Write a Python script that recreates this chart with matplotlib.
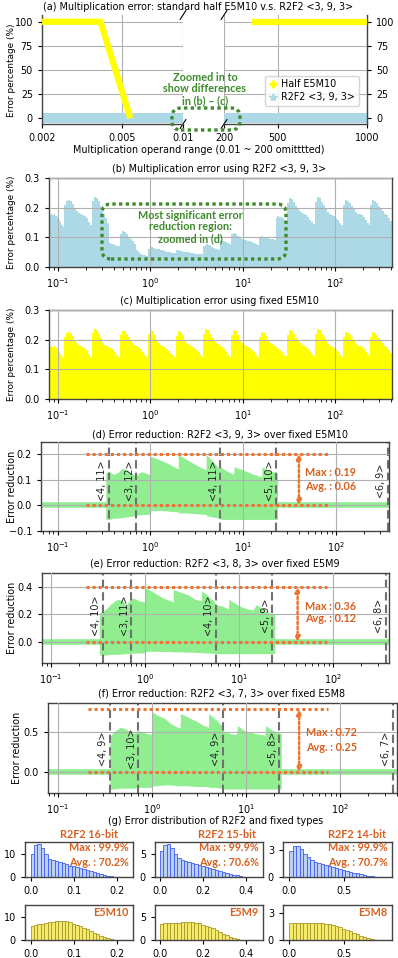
import matplotlib
matplotlib.use('Agg')
import matplotlib.pyplot as plt
import numpy as np
from matplotlib.patches import FancyBboxPatch
from matplotlib.lines import Line2D
from matplotlib.ticker import NullLocator

W, H = 398, 958
plt.rcParams['font.family'] = ['DejaVu Sans']
plt.rcParams['font.size'] = 6.9
plt.rcParams['axes.edgecolor'] = '#444444'
plt.rcParams['axes.linewidth'] = 1.0
plt.rcParams['grid.color'] = '#b0b0b0'
plt.rcParams['grid.linewidth'] = 0.8
plt.rcParams['xtick.major.size'] = 3
plt.rcParams['ytick.major.size'] = 3

ORANGE = '#ee7530'
ORANGE_TXT = '#d8601e'
GREEN = '#3d8b2b'
YELLOW = '#ffff00'
BLUE = '#add8e6'
LGREEN = '#90ee90'
BOLD = 'Lato'
DOTS = (0, (1, 1))

# ---- (a) standard half vs R2F2 over the whole range
a_half_x_lo = [0.002, 0.0039, 0.00548]
a_half_y_lo = [100, 100, 0]
a_half_x_hi = [357, 1000]
a_half_y_hi = [100, 100]
a_r2f2_x_lo = [0.002, 0.01]
a_r2f2_x_hi = [200, 1000]
a_r2f2_y = [0, 0]

# ---- (b) / (c) error percentage, segment edges and step levels
c_edges = [0.08, 0.117, 0.235, 0.47, 0.94, 1.88, 3.75, 7.5, 15, 30, 60, 120, 240, 410]
c_levels = [
    [0.175, 0.178, 0.175, 0.177, 0.172, 0.168, 0.16, 0.152, 0.142, 0.136],
    [0.21, 0.224, 0.226, 0.222, 0.212, 0.2, 0.19, 0.183, 0.178, 0.175, 0.172, 0.165, 0.152, 0.14],
    [0.222, 0.235, 0.232, 0.222, 0.205, 0.19, 0.182, 0.178, 0.176, 0.172, 0.168, 0.16, 0.15, 0.143],
    [0.215, 0.23, 0.228, 0.22, 0.208, 0.198, 0.19, 0.182, 0.178, 0.175, 0.17, 0.16, 0.15, 0.14],
    [0.218, 0.232, 0.228, 0.215, 0.2, 0.19, 0.182, 0.18, 0.176, 0.17, 0.162, 0.155, 0.148, 0.14],
    [0.212, 0.228, 0.225, 0.215, 0.2, 0.19, 0.185, 0.18, 0.176, 0.172, 0.165, 0.158, 0.15, 0.142],
    [0.22, 0.236, 0.232, 0.22, 0.205, 0.195, 0.19, 0.185, 0.18, 0.175, 0.168, 0.16, 0.15, 0.142],
    [0.215, 0.233, 0.228, 0.215, 0.2, 0.19, 0.182, 0.178, 0.175, 0.172, 0.165, 0.158, 0.15, 0.142],
    [0.21, 0.225, 0.222, 0.212, 0.2, 0.19, 0.185, 0.18, 0.175, 0.17, 0.165, 0.158, 0.15, 0.145],
    [0.215, 0.232, 0.228, 0.218, 0.205, 0.195, 0.188, 0.183, 0.18, 0.175, 0.168, 0.16, 0.152, 0.145],
    [0.22, 0.236, 0.232, 0.22, 0.208, 0.196, 0.186, 0.18, 0.176, 0.172, 0.165, 0.158, 0.15, 0.142],
    [0.21, 0.226, 0.224, 0.215, 0.205, 0.195, 0.185, 0.18, 0.178, 0.175, 0.17, 0.16, 0.15, 0.14],
    [0.21, 0.226, 0.224, 0.215, 0.205, 0.195, 0.188, 0.18, 0.175, 0.165, 0.155],
]
b_edges = [0.08, 0.117, 0.235, 0.354, 0.47, 0.707, 0.94, 1.88, 3.75, 5.66, 7.5, 15, 22.6,
           30, 60, 120, 240, 410]
b_levels = [
    [0.175, 0.178, 0.175, 0.177, 0.172, 0.168, 0.16, 0.152, 0.142, 0.136],
    [0.21, 0.224, 0.226, 0.222, 0.212, 0.2, 0.19, 0.183, 0.178, 0.175, 0.172, 0.165, 0.152, 0.14],
    [0.222, 0.235, 0.232, 0.222, 0.205, 0.19, 0.178, 0.165, 0.15],
    [0.08, 0.078, 0.076, 0.074, 0.072, 0.07],
    [0.112, 0.12, 0.117, 0.11, 0.102, 0.094, 0.086, 0.078],
    [0.056, 0.05, 0.045, 0.042, 0.04, 0.038],
    [0.06, 0.066, 0.064, 0.062, 0.06, 0.058, 0.056, 0.054, 0.052, 0.05, 0.048, 0.047],
    [0.056, 0.058, 0.055, 0.052, 0.05, 0.05, 0.048, 0.046, 0.045, 0.044, 0.044, 0.043],
    [0.072, 0.078, 0.074, 0.068, 0.064, 0.06, 0.056],
    [0.09, 0.088, 0.085, 0.08, 0.076],
    [0.11, 0.114, 0.11, 0.104, 0.098, 0.094, 0.092, 0.09, 0.088, 0.086, 0.084, 0.08, 0.077, 0.074],
    [0.1, 0.104, 0.102, 0.1, 0.098, 0.096, 0.094, 0.092],
    [0.165, 0.172, 0.17, 0.168, 0.165, 0.16, 0.155],
    [0.215, 0.232, 0.228, 0.218, 0.205, 0.195, 0.188, 0.183, 0.18, 0.175, 0.168, 0.16, 0.152, 0.145],
    [0.22, 0.236, 0.232, 0.22, 0.208, 0.196, 0.186, 0.18, 0.176, 0.172, 0.165, 0.158, 0.15, 0.142],
    [0.21, 0.226, 0.224, 0.215, 0.205, 0.195, 0.185, 0.18, 0.178, 0.175, 0.17, 0.16, 0.15, 0.14],
    [0.21, 0.226, 0.224, 0.215, 0.205, 0.195, 0.188, 0.18, 0.175, 0.165, 0.155],
]

# ---- (d)-(f) error reduction clouds (upper / lower edge)
fmt_x = [0.354, 0.707, 5.66, 22.6, 362]
d_x = [0.33, 0.36, 0.40, 0.45, 0.50, 0.55, 0.62, 0.70, 0.75, 0.82, 0.90, 0.99, 1.0, 1.2, 1.5, 1.8,
       1.99, 2.0, 2.4, 3.0, 3.6, 3.99, 4.0, 4.6, 5.6, 5.7, 6.5, 7.9, 8.0, 9.5, 12, 15.9, 16, 19, 23.5]
d_top = [0.125, 0.132, 0.12, 0.128, 0.145, 0.136, 0.125, 0.113, 0.126, 0.13, 0.125, 0.118, 0.19,
         0.18, 0.165, 0.15, 0.14, 0.197, 0.18, 0.16, 0.145, 0.138, 0.197, 0.175, 0.14, 0.15, 0.135,
         0.12, 0.15, 0.14, 0.125, 0.11, 0.15, 0.135, 0.125]
d_bot = [-0.055, -0.055, -0.05, -0.05, -0.048, -0.045, -0.043, -0.04, -0.038, -0.036, -0.036,
         -0.035, -0.022, -0.02, -0.022, -0.025, -0.025, -0.03, -0.03, -0.032, -0.035, -0.035,
         -0.04, -0.045, -0.05, -0.055, -0.055, -0.055, -0.055, -0.055, -0.055, -0.055, -0.055,
         -0.055, -0.055]
e_x = [0.326, 0.38, 0.44, 0.51, 0.57, 0.63, 0.68, 0.74, 0.85, 0.99, 1.0, 1.1, 1.3, 1.54, 1.85,
       1.99, 2.0, 2.4, 2.9, 3.4, 3.9, 3.99, 4.0, 4.5, 5.3, 5.7, 6.6, 7.7, 7.8, 9.5, 11, 14, 15.3,
       18, 21, 24]
e_top = [0.21, 0.235, 0.28, 0.31, 0.3, 0.27, 0.3, 0.32, 0.3, 0.29, 0.39, 0.38, 0.35, 0.32, 0.3,
         0.29, 0.38, 0.36, 0.34, 0.31, 0.3, 0.3, 0.37, 0.345, 0.3, 0.27, 0.26, 0.24, 0.31, 0.27,
         0.25, 0.23, 0.27, 0.24, 0.21, 0.2]
e_bot = [-0.095, -0.095, -0.09, -0.09, -0.088, -0.085, -0.085, -0.082, -0.08, -0.08, -0.07,
         -0.068, -0.068, -0.07, -0.07, -0.072, -0.072, -0.072, -0.075, -0.075, -0.078, -0.078,
         -0.078, -0.08, -0.082, -0.085, -0.085, -0.085, -0.085, -0.085, -0.085, -0.085, -0.085,
         -0.085, -0.085, -0.085]
f_x = [0.355, 0.39, 0.46, 0.52, 0.59, 0.64, 0.7, 0.78, 0.88, 0.99, 1.0, 1.13, 1.35, 1.6, 1.85,
       1.99, 2.0, 2.35, 3.0, 3.5, 3.99, 4.0, 4.6, 5.5, 5.9, 6.8, 7.9, 8.1, 9.5, 12.5, 15.9, 16.2,
       19, 23.7]
f_top = [0.44, 0.5, 0.56, 0.54, 0.5, 0.48, 0.52, 0.5, 0.48, 0.47, 0.75, 0.71, 0.67, 0.6, 0.56,
         0.55, 0.73, 0.69, 0.63, 0.58, 0.56, 0.73, 0.67, 0.58, 0.5, 0.48, 0.47, 0.58, 0.52, 0.48,
         0.46, 0.58, 0.52, 0.48]
f_bot = [-0.21, -0.21, -0.2, -0.2, -0.2, -0.2, -0.19, -0.19, -0.19, -0.19, -0.17, -0.17, -0.16,
         -0.16, -0.17, -0.17, -0.17, -0.17, -0.18, -0.18, -0.18, -0.19, -0.19, -0.2, -0.21, -0.21,
         -0.21, -0.21, -0.21, -0.21, -0.21, -0.21, -0.21, -0.21]

# ---- (g) histograms
h16 = [10, 14, 14.5, 12.5, 10, 8, 7.3, 6.8, 6.4, 6.0, 5.5, 5.0, 4.6, 4.2, 3.8, 3.4, 3.0, 2.5, 2.1,
       1.7, 1.3, 0.9, 0.6, 0.35, 0.2]
h15 = [5.7, 7.0, 7.2, 6.2, 4.9, 4.1, 3.7, 3.4, 3.2, 3.0, 2.8, 2.6, 2.3, 2.1, 1.9, 1.7, 1.5, 1.3,
       1.1, 0.9, 0.7, 0.5, 0.35, 0.2, 0.1]
h14 = [2.9, 3.5, 3.5, 3.1, 2.6, 2.2, 1.9, 1.7, 1.55, 1.45, 1.35, 1.25, 1.15, 1.0, 0.9, 0.8, 0.7,
       0.6, 0.5, 0.4, 0.3, 0.22, 0.15, 0.08, 0.04]
e5m10 = [6.2, 6.5, 6.8, 7.1, 7.4, 7.7, 8.0, 8.2, 8.3, 8.3, 8.1, 7.7, 7.2, 6.6, 6.0, 5.3, 4.6, 3.9,
         3.2, 2.5, 1.9, 1.3, 0.8, 0.4, 0.15]
e5m9 = [3.5, 3.6, 3.65, 3.7, 3.75, 3.8, 3.85, 3.9, 3.9, 3.85, 3.75, 3.6, 3.35, 3.1, 2.8, 2.5, 2.1,
        1.75, 1.4, 1.05, 0.75, 0.45, 0.25, 0.1, 0.05]
e5m8 = [1.85, 1.9, 1.92, 1.95, 1.95, 1.95, 1.95, 1.95, 1.92, 1.88, 1.82, 1.75, 1.65, 1.55, 1.4,
        1.25, 1.1, 0.95, 0.8, 0.62, 0.46, 0.32, 0.2, 0.1, 0.05]
hist_range = [0.2, 0.4, 0.8]
r2f2_names = ['R2F2 16-bit', 'R2F2 15-bit', 'R2F2 14-bit']
r2f2_avg = ['70.2%', '70.6%', '70.7%']
fixed_names = ['E5M10', 'E5M9', 'E5M8']

fig = plt.figure(figsize=(W / 100, H / 100), dpi=100)


def add_ax(x0, y0, x1, y1):
    return fig.add_axes([x0 / W, 1 - y1 / H, (x1 - x0) / W, (y1 - y0) / H])


def ftext(x, y, s, **kw):
    kw.setdefault('ha', 'center')
    kw.setdefault('va', 'center')
    fig.text(x / W, 1 - y / H, s, **kw)


def green_box(x0, y0, x1, y1):
    p = FancyBboxPatch((x0 / 100, (H - y1) / 100), (x1 - x0) / 100, (y1 - y0) / 100,
                       boxstyle='round,pad=0,rounding_size=0.09', transform=fig.dpi_scale_trans,
                       fill=False, ec=GREEN, lw=2.4, ls=DOTS, zorder=5)
    fig.add_artist(p)


def steps(edges, levels):
    xs, ys = [], []
    for i, lv in enumerate(levels):
        pts = np.logspace(np.log10(edges[i]), np.log10(edges[i + 1]), len(lv) + 1)
        xs.extend(pts[:-1])
        ys.extend(lv)
    xs.append(edges[-1])
    ys.append(levels[-1][-1])
    return np.array(xs), np.array(ys)


# ================= (a)
axl = add_ax(42, 15, 183, 124)
axr = add_ax(224, 15, 367, 124)
axl.set_xscale('log')
axl.plot(a_half_x_lo, a_half_y_lo, color=YELLOW, lw=4.5, solid_capstyle='butt', zorder=3)
axl.plot(a_r2f2_x_lo, a_r2f2_y, color=BLUE, lw=7.2, solid_capstyle='butt', zorder=2)
axr.plot(a_half_x_hi, a_half_y_hi, color=YELLOW, lw=4.5, solid_capstyle='butt', zorder=3)
axr.plot(a_r2f2_x_hi, a_r2f2_y, color=BLUE, lw=7.2, solid_capstyle='butt', zorder=2)
axl.set_xlim(0.002, 0.01)
axr.set_xlim(200, 1000)
for ax in (axl, axr):
    ax.set_ylim(-6, 107)
    ax.set_yticks([0, 25, 50, 75, 100])
    ax.grid(True)
    ax.spines['top'].set_visible(False)
axl.set_xticks([0.002, 0.005, 0.01])
axl.set_xticklabels(['0.002', '0.005', '0.01'])
axl.xaxis.set_minor_locator(NullLocator())
axl.spines['right'].set_visible(False)
axr.set_xticks([200, 500, 1000])
axr.spines['left'].set_visible(False)
axr.yaxis.tick_right()
axr.tick_params(axis='y', which='both', left=False)
d = 0.02
for ax, xb in ((axl, 1), (axr, 0)):
    for yb in (0, 1):
        ax.plot([xb - d, xb + d], [yb - 2 * d, yb + 2 * d], transform=ax.transAxes,
                color='k', lw=0.8, clip_on=False)
handles = [Line2D([], [], ls='', marker='+', color=YELLOW, ms=6, mew=2, label='Half E5M10'),
           Line2D([], [], ls='', marker='*', color=BLUE, ms=6, label='R2F2 <3, 9, 3>')]
axr.legend(handles=handles, loc='lower right', bbox_to_anchor=(0.975, 0.12), fontsize=6.9,
           handletextpad=0.3, borderpad=0.4, labelspacing=0.3, handlelength=1.0)
ftext(198, 7, '(a) Multiplication error: standard half E5M10 v.s. R2F2 <3, 9, 3>')
ftext(199, 150, 'Multiplication operand range (0.01 ~ 200 omitttted)')
ftext(12, 70, 'Error percentage (%)', rotation=90, fontsize=6.4)
green_box(172, 108, 240, 130)
ftext(205, 89, 'Zoomed in to\nshow differences\nin (b) \u2013 (c)', color=GREEN,
      fontweight='bold', family=BOLD, fontsize=7.8, linespacing=1.05)


# ================= (b) & (c)
def error_panel(y0, y1, edges, levels, color, title):
    ax = add_ax(49, y0, 392, y1)
    xs, ys = steps(edges, levels)
    ax.fill_between(xs, ys, step='post', color=color, lw=0)
    ax.set_xscale('log')
    ax.set_xlim(0.08, 410)
    ax.set_ylim(0, 0.3)
    ax.set_yticks([0.0, 0.1, 0.2, 0.3])
    ax.grid(True)
    ax.set_axisbelow(False)
    ftext(219, y0 - 9, title)
    ftext(12, (y0 + y1) / 2, 'Error percentage (%)', rotation=90, fontsize=6.4)
    return ax


error_panel(178, 267, b_edges, b_levels, BLUE, '(b) Multiplication error using R2F2 <3, 9, 3>')
green_box(102, 204, 286, 259)
ftext(190, 227, 'Most significant error\nreduction region:\nzoomed in (d)', color=GREEN,
      fontweight='bold', family=BOLD, fontsize=7.8, linespacing=1.05)
error_panel(310, 399, c_edges, c_levels, YELLOW, '(c) Multiplication error using fixed E5M10')


# ================= (d)-(f)
def reduction_panel(box, xlim, ylim, yticks, cx, ctop, cbot, labels, lab_y, top_y, arrow_x,
                    dot_x, txt_x, txt_y, txts, title, title_xy, ylab_xy):
    ax = add_ax(*box)
    ax.set_xscale('log')
    ax.plot(xlim, [0, 0], color=LGREEN, lw=4, zorder=1)
    ax.fill_between(cx, cbot, ctop, color=LGREEN, lw=0, zorder=1)
    for xv, lab in zip(fmt_x, labels):
        ax.axvline(xv, color='#707070', lw=1.5, ls=(0, (4, 2)), zorder=2)
        ax.annotate(lab, (xv, lab_y), xytext=(-1, 0), textcoords='offset points',
                    rotation=90, ha='right', va='center', color='#222222', fontsize=6.9)
    for yv in (0, top_y):
        ax.plot(dot_x, [yv, yv], ls=DOTS, color=ORANGE, lw=2.2, zorder=3)
    ax.annotate('', xy=(arrow_x, top_y), xytext=(arrow_x, 0),
                arrowprops=dict(arrowstyle='<|-|>', color=ORANGE, lw=1.8, ls=DOTS,
                                mutation_scale=7, shrinkA=0, shrinkB=0), zorder=3)
    for yv, s in zip(txt_y, txts):
        ax.text(txt_x, yv, s, color=ORANGE_TXT, fontweight='bold', family=BOLD, fontsize=7.8,
                va='center')
    ax.set_xlim(*xlim)
    ax.set_ylim(*ylim)
    ax.set_yticks(yticks)
    ax.grid(True)
    ax.set_axisbelow(False)
    ftext(title_xy[0], title_xy[1], title)
    ftext(ylab_xy[0], ylab_xy[1], 'Error reduction', rotation=90)
    return ax


reduction_panel((41, 442, 389, 531), (0.066, 375), (-0.1, 0.246), [-0.1, 0.0, 0.1, 0.2],
                d_x, d_top, d_bot, ['<4, 11>', '<3, 12>', '<4, 11>', '<5, 10>', '<6, 9>'],
                0.095, 0.2, 40, [0.2, 82], 47, [0.127, 0.073], ['Max : 0.19', 'Avg. : 0.06'],
                '(d) Error reduction: R2F2 <3, 9, 3> over fixed E5M10', (220, 435), (12, 487))
reduction_panel((42, 573, 389, 663), (0.08, 394), (-0.153, 0.5), [0.0, 0.2, 0.4],
                e_x, e_top, e_bot, ['<4, 10>', '<3, 11>', '<4, 10>', '<5, 9>', '<6, 8>'],
                0.19, 0.4, 42, [0.235, 86], 50, [0.26, 0.17], ['Max : 0.36', 'Avg. : 0.12'],
                '(e) Error reduction: R2F2 <3, 8, 3> over fixed E5M9', (215, 563), (12, 618))
reduction_panel((48, 703, 397, 793), (0.078, 404), (-0.26, 0.86), [0.0, 0.5],
                f_x, f_top, f_bot, ['<4, 9>', '<3, 10>', '<4, 9>', '<5, 8>', '<6, 7>'],
                0.29, 0.78, 36.7, [0.21, 74], 43, [0.49, 0.31], ['Max : 0.72', 'Avg. : 0.25'],
                '(f) Error reduction: R2F2 <3, 7, 3> over fixed E5M8', (222, 693), (17, 748))

# ================= (g)
ftext(216, 821, '(g) Error distribution of R2F2 and fixed types')
cols = [(25, 133), (155, 263), (283, 392)]
xlims = [(-0.013, 0.238), (-0.023, 0.48), (-0.055, 0.936)]
ylims = [15.3, 7.6, 3.9]
xticks = [[0.0, 0.1, 0.2], [0.0, 0.2, 0.4], [0.0, 0.5]]
yticks = [[0, 10], [0, 5], [0, 3]]
title_cx = [89, 227, 357]
for i, (x0, x1) in enumerate(cols):
    edges = np.linspace(0, hist_range[i], 26)
    for row, (vals, face, edge, y0, y1) in enumerate((
            ([h16, h15, h14][i], '#bcd0f8', '#3c5cf5', 842, 877),
            ([e5m10, e5m9, e5m8][i], '#f6ea6a', '#a6962a', 905, 940))):
        ax = add_ax(x0, y0, x1, y1)
        ax.bar(edges[:-1], vals, width=np.diff(edges), align='edge', color=face,
               edgecolor=edge, lw=0.6)
        ax.set_xlim(*xlims[i])
        ax.set_ylim(0, ylims[i])
        ax.set_xticks(xticks[i])
        ax.set_yticks(yticks[i])
        if row == 0:
            ax.text(0.96, 0.83, 'Max : 99.9%', transform=ax.transAxes, ha='right', va='center',
                    color=ORANGE_TXT, fontweight='bold', family=BOLD, fontsize=7.8)
            ax.text(0.96, 0.4, 'Avg. : ' + r2f2_avg[i], transform=ax.transAxes, ha='right',
                    va='center', color=ORANGE_TXT, fontweight='bold', family=BOLD, fontsize=7.8)
        else:
            ax.text(0.96, 0.78, fixed_names[i], transform=ax.transAxes, ha='right',
                    va='center', color=ORANGE_TXT, fontweight='bold', family=BOLD, fontsize=7.8)
    ftext(title_cx[i], 834, r2f2_names[i], color=ORANGE_TXT, fontweight='bold', family=BOLD,
          fontsize=7.8)

fig.savefig('out.png', dpi=100)
